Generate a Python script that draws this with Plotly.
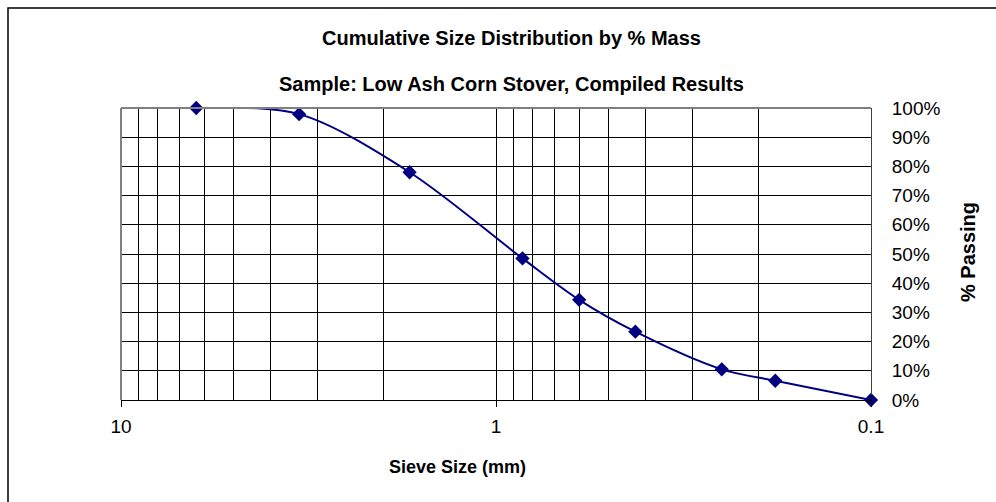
import plotly.graph_objects as go

# sieve openings (mm) and cumulative % passing
sieve_mm = [6.3, 3.35, 1.7, 0.85, 0.6, 0.425, 0.25, 0.18, 0.1]
passing_pct = [100.0, 97.9, 78.0, 48.5, 34.3, 23.4, 10.5, 6.6, 0.0]

x_tickvals = [10, 1, 0.1]
x_ticktext = ["10", "1", "0.1"]
y_tickvals = [0, 10, 20, 30, 40, 50, 60, 70, 80, 90, 100]
y_ticktext = ["0%", "10%", "20%", "30%", "40%", "50%", "60%", "70%", "80%", "90%", "100%"]

NAVY = "#000080"
FONT = "Liberation Sans, Arial, sans-serif"

# plot area in pixels: x 121..871, y 108..400
L, R, T, B = 121, 871, 108, 400
W, H = R - L, B - T


def px(x):
    return (x - L) / W


def py(y):
    return (B - y) / H


fig = go.Figure()
fig.add_trace(go.Scatter(
    x=sieve_mm, y=passing_pct, mode="lines+markers",
    line=dict(color=NAVY, width=2, shape="spline", smoothing=0.9),
    marker=dict(symbol="diamond", size=11, color=NAVY),
    cliponaxis=False, showlegend=False,
))

fig.update_layout(
    width=996, height=502,
    margin=dict(l=L, r=996 - R, t=T, b=502 - B),
    paper_bgcolor="white", plot_bgcolor="white",
    font=dict(family=FONT, color="black", size=19),
    xaxis=dict(
        type="log", range=[1, -1],
        tickvals=x_tickvals, ticktext=x_ticktext,
        ticks="outside", ticklen=6, tickcolor="black", ticklabelstandoff=3,
        showgrid=True, gridcolor="black", gridwidth=1,
        minor=dict(dtick="D1", showgrid=True, gridcolor="black", gridwidth=1,
                   ticks="inside", ticklen=5, tickcolor="black"),
        showline=True, linecolor="black", linewidth=1,
        zeroline=False,
    ),
    yaxis=dict(
        side="right", range=[0, 100],
        tickvals=y_tickvals, ticktext=y_ticktext,
        ticks="outside", ticklen=0, ticklabelstandoff=16,
        showgrid=True, gridcolor="black", gridwidth=1,
        showline=True, linecolor="#404040", linewidth=1,
        zeroline=False,
    ),
    shapes=[
        # plot area border (top and left in grey)
        dict(type="line", xref="paper", yref="paper", x0=0, x1=1, y0=1, y1=1,
             line=dict(color="#808080", width=2)),
        dict(type="line", xref="paper", yref="paper", x0=0, x1=0, y0=0, y1=1,
             line=dict(color="#808080", width=2)),
        # chart outer border
        dict(type="rect", xref="paper", yref="paper",
             x0=px(8), x1=px(1100), y0=py(600), y1=py(8),
             line=dict(color="black", width=1.5), layer="below"),
    ],
    annotations=[
        dict(text="<b>Cumulative Size Distribution by % Mass</b>", xref="paper", yref="paper",
             x=px(511), y=py(38), showarrow=False,
             font=dict(size=20), xanchor="center", yanchor="middle"),
        dict(text="<b>Sample: Low Ash Corn Stover, Compiled Results</b>", xref="paper", yref="paper",
             x=px(511), y=py(84), showarrow=False,
             font=dict(size=20), xanchor="center", yanchor="middle"),
        dict(text="<b>Sieve Size (mm)</b>", xref="paper", yref="paper",
             x=px(457), y=py(467), showarrow=False,
             font=dict(size=18), xanchor="center", yanchor="middle"),
        dict(text="<b>% Passing</b>", xref="paper", yref="paper",
             x=px(968), y=py(252), showarrow=False, textangle=-90,
             font=dict(size=20), xanchor="center", yanchor="middle"),
    ],
)

fig.write_html("out.html", config={"displayModeBar": False},
               post_script="document.body.style.margin='0';")
